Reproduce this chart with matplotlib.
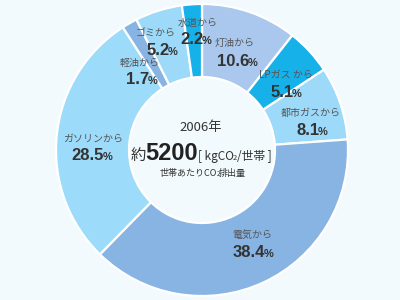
import matplotlib
matplotlib.use("Agg")
import matplotlib.pyplot as plt

# ---- data ----
categories = ["灯油から", "LPガス から", "都市ガスから", "電気から", "ガソリンから", "軽油から", "ゴミから", "水道から"]
values = [10.6, 5.1, 8.1, 38.4, 28.5, 1.7, 5.2, 2.2]
pct_labels = ["10.6", "5.1", "8.1", "38.4", "28.5", "1.7", "5.2", "2.2"]
colors = ["#aac8ee", "#17b1ea", "#9dd9f8", "#88b4e3", "#9ddbfa", "#88b4e3", "#9dd9f8", "#17b1ea"]
year_label = "2006年"
total_label = "5200"

# label positions (image pixel coords: name centre, pct centre)
label_pos = [
    ((235, 43), (237, 61)),
    ((286, 75), (286, 92)),
    ((311, 113), (312, 130)),
    ((252, 235), (253, 252)),
    ((93, 139), (92, 155)),
    ((140, 63), (142, 79)),
    ((156, 34), (162, 50)),
    ((198, 23), (196, 39)),
]

BG = "#f2fafd"
W, H = 400, 300
fig = plt.figure(figsize=(4, 3), dpi=100, facecolor=BG)
ax = fig.add_axes([0, 0, 1, 1])
ax.set_facecolor(BG)

cx, cy, R, R_IN = 202, 150, 146, 73
ax.pie(values, colors=colors, startangle=90, counterclock=False,
       radius=R, center=(cx, cy), frame=True,
       wedgeprops=dict(width=R - R_IN, edgecolor="white", linewidth=1.6))
ax.set_xlim(0, W)
ax.set_ylim(0, H)
ax.set_aspect("auto")
ax.axis("off")

JP = ["Noto Sans CJK JP", "DejaVu Sans"]
NUM = ["Liberation Sans", "Noto Sans CJK JP"]
renderer = fig.canvas.get_renderer()


def rich(x, y_img, pieces, kern=-1.0):
    """pieces: list of (text, kwargs, dy); centred at x, baseline at image y."""
    widths = []
    for s, kw, dy in pieces:
        t = ax.text(0, 0, s, **kw)
        widths.append(t.get_window_extent(renderer).width)
        t.remove()
    total = sum(widths) + kern * (len(pieces) - 1)
    xp = x - total / 2
    yb = H - y_img
    for (s, kw, dy), w in zip(pieces, widths):
        ax.text(xp, yb + dy, s, ha="left", va="baseline", **kw)
        xp += w + kern


name_kw = dict(family=JP, fontsize=7.2, color="#555555")
for (npos, ppos), name, pct in zip(label_pos, categories, pct_labels):
    ax.text(npos[0], H - npos[1], name, ha="center", va="center", **name_kw)
    rich(ppos[0], ppos[1] + 5, [
        (pct, dict(family=NUM, fontsize=12, fontweight="bold", color="#333333"), 0),
        ("%", dict(family=NUM, fontsize=8, fontweight="bold", color="#333333"), 0),
    ], kern=-1)

# centre text
ax.text(201, H - 128, year_label, ha="center", va="center",
        family=JP, fontsize=9.5, color="#333333")
small = dict(family=JP, fontsize=8.5, color="#333333")
rich(201, 160, [
    ("約", dict(family=JP, fontsize=11, color="#333333"), 0),
    (total_label, dict(family=NUM, fontsize=17, fontweight="bold", color="#222222"), 0),
    ("[ kgCO", small, 0),
    ("2", dict(family=JP, fontsize=5.5, color="#333333"), 0),
    ("/世帯 ]", small, 0),
], kern=-0.5)
tiny = dict(family=JP, fontsize=6.5, color="#333333")
rich(203, 176, [
    ("世帯あたりCO", tiny, 0),
    ("2", dict(family=JP, fontsize=4.5, color="#333333"), 0),
    ("排出量", tiny, 0),
], kern=-1)

fig.savefig("out.png", dpi=100, facecolor=BG)
